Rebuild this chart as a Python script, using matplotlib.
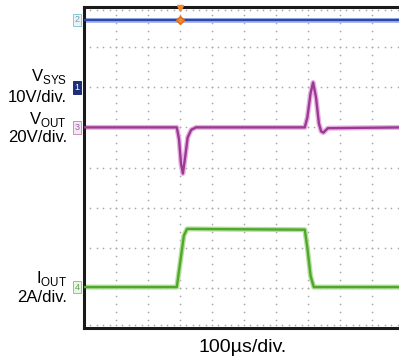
import numpy as np
import matplotlib.pyplot as plt

plt.rcParams['font.family'] = ['Liberation Sans', 'DejaVu Sans']
plt.rcParams['mathtext.fontset'] = 'custom'
plt.rcParams['mathtext.rm'] = 'Liberation Sans'

# Time axis in divisions (100us/div), vertical axis in screen divisions
ch2_t = [0.0, 10.0]
ch2_v = [7.68, 7.68]

ch3_t = [0.0, 2.90, 2.97, 3.03, 3.09, 3.16, 3.24, 3.35, 3.50, 6.90, 6.98, 7.08, 7.16, 7.25, 7.34, 7.41, 7.48, 7.62, 10.0]
ch3_v = [5.0, 5.0, 4.70, 4.10, 3.85, 4.25, 4.75, 4.94, 5.0, 5.0, 5.25, 5.85, 6.12, 5.75, 5.10, 4.90, 4.87, 4.98, 5.0]

ch4_t = [0.0, 2.90, 3.00, 3.12, 3.22, 6.90, 6.98, 7.08, 7.18, 10.0]
ch4_v = [1.02, 1.02, 1.60, 2.30, 2.47, 2.45, 2.00, 1.30, 1.02, 1.02]

trigger_t = 3.0
ch1_level = 6.0

fig = plt.figure(figsize=(3.99, 3.58), dpi=100)
ax = fig.add_axes([84 / 399, 30 / 358, 320 / 399, 321 / 358])
ax.set_xlim(0, 10)
ax.set_ylim(0, 8)
ax.set_xticks([])
ax.set_yticks([])
for side in ['top', 'left', 'bottom']:
    ax.spines[side].set_linewidth(2.2)
    ax.spines[side].set_color('#1a1a1a')
ax.spines['right'].set_visible(False)

# scope graticule: dotted division lines
grid_pts_x, grid_pts_y = [], []
for gx in range(1, 10):
    for k in np.arange(0, 8.01, 0.2):
        grid_pts_x.append(gx)
        grid_pts_y.append(k)
for gy in range(1, 8):
    for k in np.arange(0, 10.01, 0.2):
        grid_pts_x.append(k)
        grid_pts_y.append(gy)
for k in np.arange(0, 10.01, 0.2):
    grid_pts_x += [k, k]
    grid_pts_y += [0.08, 7.92]
ax.scatter(grid_pts_x, grid_pts_y, s=1.5, color='#aaaaaa', linewidths=0, zorder=1)

traces = [
    (ch2_t, ch2_v, '#2d46a8', '#a8bbea'),
    (ch3_t, ch3_v, '#9a3a92', '#e8b0e2'),
    (ch4_t, ch4_v, '#4fa82c', '#b4e09c'),
]
for t, v, core, halo in traces:
    ax.plot(t, v, color=halo, lw=3.6, solid_capstyle='butt', zorder=2)
    ax.plot(t, v, color=core, lw=1.7, solid_capstyle='butt', zorder=3)

# trigger position marker
ax.plot([trigger_t], [7.68], marker='D', ms=4.5, color='#f08a30', mec='#e06a10', zorder=4, clip_on=False)
ax.plot([trigger_t], [7.98], marker='v', ms=4, color='#f08a30', zorder=4, clip_on=False)

# channel markers on the left edge
def ch_tag(y, txt, fc, ec, tc):
    ax.text(-0.22, y, txt, ha='center', va='center', fontsize=6.5, color=tc,
            bbox=dict(boxstyle='square,pad=0.2', fc=fc, ec=ec, lw=0.7), clip_on=False)

ch_tag(7.68, '2', '#e8f4f8', '#8cc8d8', '#6aa0b0')
ch_tag(ch1_level, '1', '#1e2f7a', '#1e2f7a', 'white')
ch_tag(5.0, '3', '#f6e6f4', '#c890c4', '#a060a0')
ch_tag(1.02, '4', '#eaf6e4', '#90c880', '#60a050')

ax.plot([9.95], [1.95], marker='<', ms=3, color='#333333', clip_on=False)

# channel scale labels
fs = 12
fig.text(67 / 399, 1 - 76 / 358, r'V$_{\rm SYS}$', ha='right', va='center', fontsize=fs)
fig.text(67 / 399, 1 - 97 / 358, '10V/div.', ha='right', va='center', fontsize=fs)
fig.text(67 / 399, 1 - 119 / 358, r'V$_{\rm OUT}$', ha='right', va='center', fontsize=fs)
fig.text(67 / 399, 1 - 137 / 358, '20V/div.', ha='right', va='center', fontsize=fs)
fig.text(67 / 399, 1 - 278 / 358, r'I$_{\rm OUT}$', ha='right', va='center', fontsize=fs)
fig.text(67 / 399, 1 - 297 / 358, '2A/div.', ha='right', va='center', fontsize=fs)
fig.text(243 / 399, 1 - 347 / 358, '100µs/div.', ha='center', va='center', fontsize=14)

fig.savefig('out.png', dpi=100)
